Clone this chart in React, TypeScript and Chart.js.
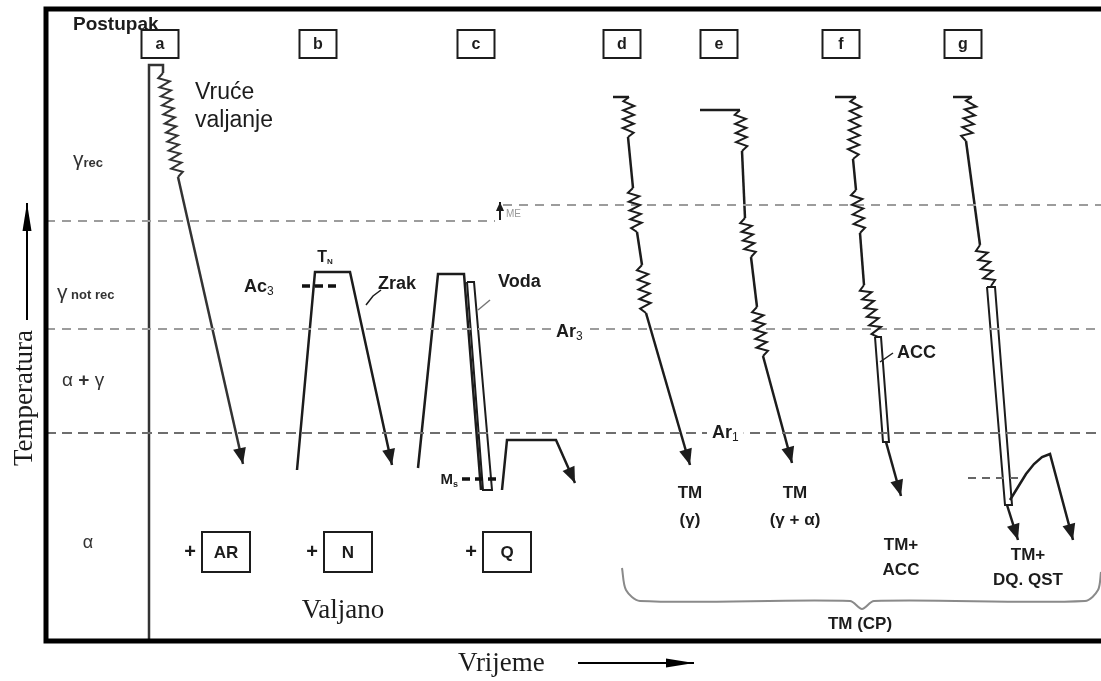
import React, { useEffect, useRef } from "react";
import { Chart, registerables } from "chart.js";

Chart.register(...registerables);

type P = [number, number];

// Axis ranges (schematic time / temperature units)
const timeRange: P = [0, 1055];
const tempRange: P = [0, 632];

// Critical temperature levels (dashed)
const lineRec: P[] = [[0, 420], [449, 420]];
const lineRecME: P[] = [[457, 436], [1055, 436]];
const lineAr3: P[] = [[0, 312], [1055, 312]];
const lineAr1: P[] = [[0, 208], [1055, 208]];
const lineAc3: P[] = [[256, 355], [294, 355]];
const lineMs: P[] = [[416, 162], [454, 162]];
const lineMsG: P[] = [[922, 163], [977, 163]];
const arrowME: P[] = [[454, 421], [454, 439]];

// Process a: hot rolling
const pathA: P[] = [[103, 0], [103, 576], [117, 576], [117, 568], [132, 464], [197, 177]];
const rollsA = [3];
// Process b: normalising in air
const pathB: P[] = [[251, 171], [269, 369], [304, 369], [346, 176]];
// Process c: water quench + tempering
const pathC: P[] = [[372, 173], [392, 367], [418, 367], [435, 151]];
const bandC: P[] = [[421, 359], [428, 359], [446, 151], [437, 151], [421, 359]];
const pathC2: P[] = [[456, 151], [461, 201], [510, 201], [529, 158]];
// Process d: TM (gamma)
const pathD: P[] = [[567, 544], [583, 544], [582, 504], [587, 453], [591, 409], [596, 376], [600, 328], [644, 176]];
const rollsD = [1, 3, 5];
// Process e: TM (gamma + alpha)
const pathE: P[] = [[654, 531], [694, 531], [696, 490], [699, 423], [705, 384], [711, 334], [717, 285], [746, 178]];
const rollsE = [1, 3, 5];
// Process f: TM + ACC
const pathF: P[] = [[789, 544], [810, 544], [807, 482], [810, 451], [814, 408], [818, 356], [832, 304]];
const rollsF = [1, 3, 5];
const bandF: P[] = [[829, 304], [835, 304], [843, 199], [837, 199], [829, 304]];
const pathF2: P[] = [[840, 199], [855, 145]];
// Process g: TM + DQ, QST
const pathG: P[] = [[907, 544], [926, 544], [920, 500], [934, 396], [945, 355]];
const rollsG = [1, 3];
const bandG: P[] = [[941, 354], [949, 354], [966, 136], [959, 136], [941, 354]];
const pathG2: P[] = [[961, 136], [972, 101]];
const pathG3: P[] = [[964, 141], [972, 154], [980, 167], [988, 177], [996, 184], [1004, 187], [1027, 101]];

// Leaders and brace
const leaderZrak: P[] = [[320, 336], [327, 345], [335, 351]];
const leaderVoda: P[] = [[432, 331], [444, 341]];
const leaderACC: P[] = [[834, 279], [847, 288]];
const braceTMCP: P[] = [[576, 73], [580, 51], [594, 40], [804, 40], [816, 32], [828, 40], [1039, 40], [1052, 51], [1055, 69]];

// Axis arrows (outside the plot frame)
const axisArrowTemp: P[] = [[-19, 321], [-19, 438]];
const axisArrowTime: P[] = [[532, -22], [648, -22]];

// Stage boxes
const stageLetters = ["a", "b", "c", "d", "e", "f", "g"];
const stageTimes = [114, 272, 430, 576, 673, 795, 917];
const stageLevel = 597;
const finishLabels = ["AR", "N", "Q"];
const finishTimes = [180, 302, 461];
const finishLevel = 89;

type Part = [string, number, boolean, number?];
type Label = {
  t: number;
  T: number;
  parts: Part[];
  align?: "left" | "center" | "right";
  color?: string;
  bg?: boolean;
  serif?: boolean;
  rotate?: boolean;
};

const labels: Label[] = [
  { t: 27, T: 616, parts: [["Postupak", 19, true]] },
  { t: 149, T: 548, parts: [["Vruće", 23, false]] },
  { t: 149, T: 520, parts: [["valjanje", 23, false]] },
  { t: 27, T: 481, parts: [["γ", 21, false], ["rec", 13, true, 3]], color: "#333" },
  { t: 11, T: 348, parts: [["γ", 21, false], [" not rec", 13, true, 2]], color: "#333" },
  { t: 16, T: 260, parts: [["α ", 19, false], ["+", 19, true], [" γ", 19, false]], color: "#333" },
  { t: 42, T: 98, parts: [["α", 18, false]], align: "center", color: "#333" },
  { t: 198, T: 354, parts: [["Ac", 18, true], ["3", 12, false, 5]] },
  { t: 279, T: 383, parts: [["T", 16, true], ["N", 8, true, 4]], align: "center" },
  { t: 332, T: 357, parts: [["Zrak", 18, true]] },
  { t: 452, T: 359, parts: [["Voda", 18, true]] },
  { t: 412, T: 161, parts: [["M", 15, true], ["s", 9, true, 5]], align: "right" },
  { t: 460, T: 427, parts: [["ME", 10, false]], color: "#999" },
  { t: 510, T: 309, parts: [["Ar", 18, true], ["3", 12, false, 5]], bg: true },
  { t: 666, T: 208, parts: [["Ar", 18, true], ["1", 12, false, 5]], bg: true },
  { t: 851, T: 288, parts: [["ACC", 18, true]] },
  { t: 644, T: 148, parts: [["TM", 17, true]], align: "center" },
  { t: 644, T: 121, parts: [["(γ)", 17, true]], align: "center" },
  { t: 749, T: 148, parts: [["TM", 17, true]], align: "center" },
  { t: 749, T: 121, parts: [["(γ + α)", 17, true]], align: "center" },
  { t: 855, T: 96, parts: [["TM+", 17, true]], align: "center" },
  { t: 855, T: 71, parts: [["ACC", 17, true]], align: "center" },
  { t: 982, T: 86, parts: [["TM+", 17, true]], align: "center" },
  { t: 982, T: 61, parts: [["DQ. QST", 17, true]], align: "center" },
  { t: 814, T: 17, parts: [["TM (CP)", 17, true]], align: "center" },
  { t: 297, T: 30, parts: [["Valjano", 27, false]], align: "center", serif: true },
  { t: 412, T: -23, parts: [["Vrijeme", 27, false]], serif: true },
  { t: -21, T: 243, parts: [["Temperatura", 27, false]], align: "center", serif: true, rotate: true },
];

const INK = "#1c1c1c";
const SANS = '"Liberation Sans", Arial, Helvetica, sans-serif';
const SERIF = '"Liberation Serif", "Times New Roman", serif';

const toXY = (d: P[]) => d.map(([x, y]) => ({ x, y }));

function line(d: P[], extra: any = {}) {
  return {
    data: toXY(d),
    borderColor: INK,
    borderWidth: 2.5,
    pointRadius: 0,
    pointHoverRadius: 0,
    tension: 0,
    fill: false,
    ...extra,
  };
}

function rolled(d: P[], rolls: number[], extra: any = {}) {
  const color = extra.borderColor || INK;
  return line(d, {
    rolls,
    arrow: [16, 6.5],
    ...extra,
    segment: {
      borderColor: (c: any) => (rolls.includes(c.p0DataIndex) ? "rgba(0,0,0,0)" : color),
    },
  });
}

const dashed = (d: P[], color: string, width: number, dash: number[]) =>
  line(d, { borderColor: color, borderWidth: width, borderDash: dash });

function zigzag(ctx: CanvasRenderingContext2D, x0: number, y0: number, x1: number, y1: number) {
  const dx = x1 - x0;
  const dy = y1 - y0;
  const L = Math.hypot(dx, dy);
  if (L < 1) return;
  const ux = dx / L, uy = dy / L;
  const nx = -uy, ny = ux;
  const n = Math.max(2, Math.round(L / 4.6));
  const A = 5.5;
  ctx.beginPath();
  ctx.moveTo(x0, y0);
  for (let k = 1; k < n; k++) {
    const s = (k / n) * L;
    const sg = k % 2 ? 1 : -1;
    ctx.lineTo(x0 + ux * s + nx * A * sg, y0 + uy * s + ny * A * sg);
  }
  ctx.lineTo(x1, y1);
  ctx.stroke();
}

function arrowHead(ctx: CanvasRenderingContext2D, x0: number, y0: number, x1: number, y1: number, len: number, half: number) {
  const a = Math.atan2(y1 - y0, x1 - x0);
  const c = Math.cos(a), s = Math.sin(a);
  ctx.beginPath();
  ctx.moveTo(x1, y1);
  ctx.lineTo(x1 - len * c + half * s, y1 - len * s - half * c);
  ctx.lineTo(x1 - len * c - half * s, y1 - len * s + half * c);
  ctx.closePath();
  ctx.fill();
}

function fontOf(size: number, bold: boolean, serif?: boolean) {
  return `${bold ? "bold " : ""}${size}px ${serif ? SERIF : SANS}`;
}

function drawLabel(ctx: CanvasRenderingContext2D, x: number, y: number, lb: Label) {
  ctx.save();
  ctx.textBaseline = "middle";
  ctx.textAlign = "left";
  const widths = lb.parts.map((p) => {
    ctx.font = fontOf(p[1], p[2], lb.serif);
    return ctx.measureText(p[0]).width;
  });
  const total = widths.reduce((a, b) => a + b, 0);
  ctx.translate(x, y);
  if (lb.rotate) ctx.rotate(-Math.PI / 2);
  let cx = lb.align === "center" ? -total / 2 : lb.align === "right" ? -total : 0;
  if (lb.bg) {
    const h = lb.parts[0][1] + 8;
    ctx.fillStyle = "#fff";
    ctx.fillRect(cx - 5, -h / 2, total + 10, h + 4);
  }
  ctx.fillStyle = lb.color || INK;
  lb.parts.forEach((p, i) => {
    ctx.font = fontOf(p[1], p[2], lb.serif);
    ctx.fillText(p[0], cx, p[3] || 0);
    cx += widths[i];
  });
  ctx.restore();
}

function boxText(ctx: CanvasRenderingContext2D, x: number, y: number, w: number, h: number, text: string, size: number) {
  ctx.save();
  ctx.fillStyle = "#fff";
  ctx.fillRect(x - w / 2, y - h / 2, w, h);
  ctx.strokeStyle = INK;
  ctx.lineWidth = 2;
  ctx.strokeRect(x - w / 2, y - h / 2, w, h);
  ctx.fillStyle = INK;
  ctx.font = fontOf(size, true);
  ctx.textAlign = "center";
  ctx.textBaseline = "middle";
  ctx.fillText(text, x, y + 1);
  ctx.restore();
}

const schematicPlugin = {
  id: "schematic",
  afterDatasetsDraw(chart: any) {
    const ctx: CanvasRenderingContext2D = chart.ctx;
    chart.data.datasets.forEach((ds: any, i: number) => {
      const pts = chart.getDatasetMeta(i).data;
      ctx.save();
      ctx.strokeStyle = ds.borderColor || INK;
      ctx.fillStyle = INK;
      ctx.lineWidth = 2;
      ctx.lineJoin = "miter";
      if (ds.rolls) {
        ds.rolls.forEach((j: number) => zigzag(ctx, pts[j].x, pts[j].y, pts[j + 1].x, pts[j + 1].y));
      }
      if (ds.arrow) {
        const a = pts[pts.length - 2];
        const b = pts[pts.length - 1];
        arrowHead(ctx, a.x, a.y, b.x, b.y, ds.arrow[0], ds.arrow[1]);
      }
      ctx.restore();
    });
  },
  afterDraw(chart: any) {
    const ctx: CanvasRenderingContext2D = chart.ctx;
    const xs = chart.scales.x;
    const ys = chart.scales.y;
    const X = (t: number) => xs.getPixelForValue(t);
    const Y = (T: number) => ys.getPixelForValue(T);
    const area = chart.chartArea;

    // frame
    ctx.save();
    ctx.strokeStyle = "#000";
    ctx.lineWidth = 5;
    ctx.beginPath();
    ctx.moveTo(area.right + 4, area.top);
    ctx.lineTo(area.left, area.top);
    ctx.lineTo(area.left, area.bottom);
    ctx.lineTo(area.right + 4, area.bottom);
    ctx.stroke();
    ctx.restore();

    // stage boxes
    stageLetters.forEach((s, i) => boxText(ctx, X(stageTimes[i]), Y(stageLevel), 37, 28, s, 16));
    finishLabels.forEach((s, i) => {
      boxText(ctx, X(finishTimes[i]), Y(finishLevel), 48, 40, s, 17);
      drawLabel(ctx, X(finishTimes[i] - 36), Y(finishLevel), {
        t: 0, T: 0, parts: [["+", 20, true]], align: "center",
      });
    });

    // text labels
    labels.forEach((lb) => drawLabel(ctx, X(lb.t), Y(lb.T), lb));

    // axis arrows
    ctx.save();
    ctx.strokeStyle = "#000";
    ctx.fillStyle = "#000";
    ctx.lineWidth = 2;
    [axisArrowTemp, axisArrowTime].forEach((d) => {
      const x0 = X(d[0][0]), y0 = Y(d[0][1]), x1 = X(d[1][0]), y1 = Y(d[1][1]);
      ctx.beginPath();
      ctx.moveTo(x0, y0);
      ctx.lineTo(x1, y1);
      ctx.stroke();
      arrowHead(ctx, x0, y0, x1, y1, 28, 4.5);
    });
    ctx.restore();
  },
};

export default function App() {
  const ref = useRef<HTMLCanvasElement>(null);
  useEffect(() => {
    const datasets: any[] = [
      dashed(lineRec, "#9c9c9c", 2, [9, 7]),
      dashed(lineRecME, "#9c9c9c", 2, [9, 7]),
      dashed(lineAr3, "#9c9c9c", 2, [9, 7]),
      dashed(lineAr1, "#6e6e6e", 2, [10, 6]),
      dashed(lineAc3, "#111", 3.5, [8, 5]),
      dashed(lineMs, "#111", 3.5, [8, 5]),
      dashed(lineMsG, "#666", 2, [8, 6]),
      line(arrowME, { borderWidth: 2, arrow: [9, 4] }),
      rolled(pathA, rollsA, { borderColor: "#333" }),
      line(pathB, { arrow: [16, 6.5] }),
      line(pathC),
      line(bandC, { borderWidth: 2 }),
      line(pathC2, { arrow: [16, 6.5] }),
      rolled(pathD, rollsD),
      rolled(pathE, rollsE),
      rolled(pathF, rollsF, { arrow: null }),
      line(bandF, { borderWidth: 2 }),
      line(pathF2, { arrow: [16, 6.5] }),
      rolled(pathG, rollsG, { arrow: null }),
      line(bandG, { borderWidth: 2 }),
      line(pathG2, { arrow: [16, 6.5] }),
      line(pathG3, { arrow: [16, 6.5] }),
      line(leaderZrak, { borderWidth: 1.5 }),
      line(leaderVoda, { borderWidth: 1.5, borderColor: "#777" }),
      line(leaderACC, { borderWidth: 1.5 }),
      line(braceTMCP, { borderWidth: 2, borderColor: "#8a8a8a", tension: 0.3 }),
    ];
    const chart = new Chart(ref.current as HTMLCanvasElement, {
      type: "line",
      data: { datasets },
      options: {
        animation: false,
        responsive: false,
        maintainAspectRatio: false,
        devicePixelRatio: 1,
        events: [],
        layout: { padding: { left: 46, top: 9, right: 0, bottom: 40 } },
        scales: {
          x: { type: "linear", min: timeRange[0], max: timeRange[1], display: false },
          y: { type: "linear", min: tempRange[0], max: tempRange[1], display: false },
        },
        plugins: {
          legend: { display: false },
          tooltip: { enabled: false },
          title: { display: false },
        },
      } as any,
      plugins: [schematicPlugin],
    });
    return () => chart.destroy();
  }, []);
  return (
    <div style={{ position: "fixed", left: 0, top: 0, width: 1101, height: 681, background: "#fff" }}>
      <canvas ref={ref} width={1101} height={681} style={{ display: "block", width: 1101, height: 681 }} />
    </div>
  );
}
